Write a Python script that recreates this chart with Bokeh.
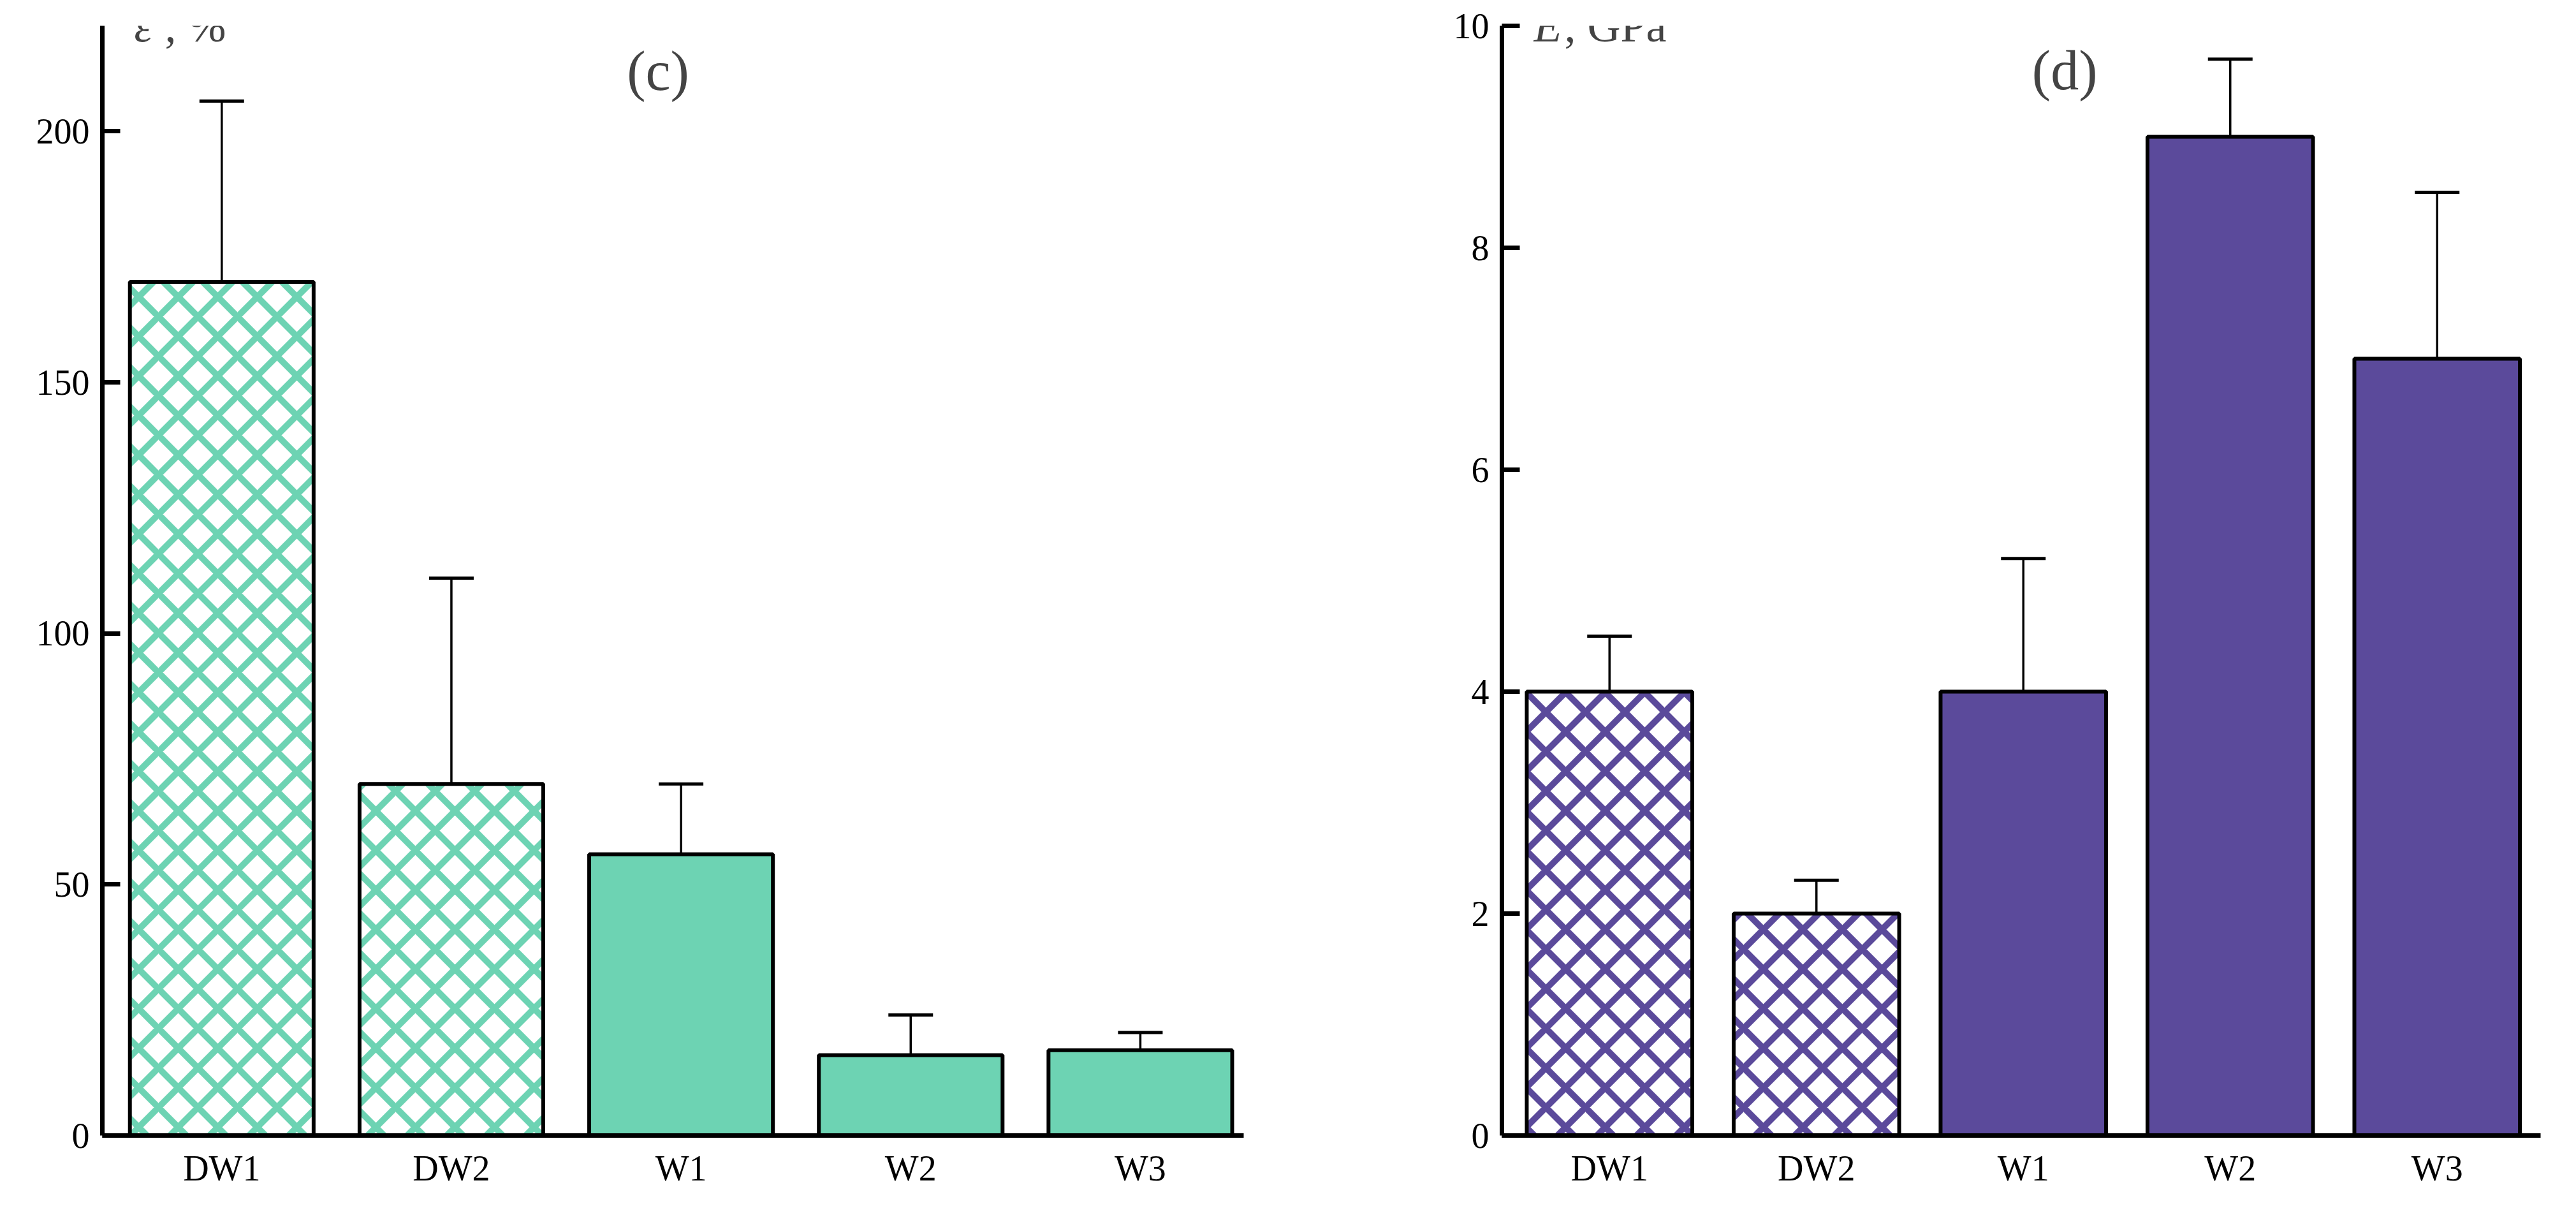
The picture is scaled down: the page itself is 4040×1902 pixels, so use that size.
from bokeh.plotting import figure
from bokeh.models import Whisker, TeeHead, ColumnDataSource, Label, FixedTicker, Range1d
from bokeh.layouts import row
from bokeh.embed import file_html
from bokeh.resources import INLINE

cats = ["DW1", "DW2", "W1", "W2", "W3"]
eps = [170, 70, 56, 16, 17]
eps_lo = [134, 29, 42, 8, 13.5]
eps_hi = [206, 111, 70, 24, 20.5]
mod = [4, 2, 4, 9, 7]
mod_lo = [3.5, 1.7, 2.8, 8.3, 5.5]
mod_hi = [4.5, 2.3, 5.2, 9.7, 8.5]
hatched = [True, True, False, False, False]

FONT = "Liberation Serif"

def panel(vals, lo, hi, color, ymax, yticks, w, bl, lab_parts, tag, tagx, tagy, labx, laby):
    p = figure(width=w, height=1880, x_range=Range1d(-0.52, 4.45), y_range=Range1d(0, ymax),
               output_backend="svg", toolbar_location=None,
               min_border_left=bl, min_border_right=40, min_border_top=40, min_border_bottom=100)
    p.outline_line_color = None
    p.grid.visible = False
    xs = list(range(len(cats)))
    for i in xs:
        if hatched[i]:
            p.vbar(x=[i], top=[vals[i]], width=0.8, fill_color="white", hatch_pattern="x",
                   hatch_color=color, hatch_scale=62, hatch_weight=10,
                   line_color="black", line_width=6)
        else:
            p.vbar(x=[i], top=[vals[i]], width=0.8, fill_color=color,
                   line_color="black", line_width=6)
    src = ColumnDataSource(dict(x=xs, lo=lo, hi=hi))
    p.add_layout(Whisker(source=src, base="x", lower="lo", upper="hi", line_width=3.5,
                         upper_head=TeeHead(size=70, line_width=5),
                         lower_head=TeeHead(size=70, line_width=5)))
    p.xaxis.ticker = FixedTicker(ticks=xs)
    p.xaxis.major_label_overrides = {i: c for i, c in enumerate(cats)}
    p.xaxis.major_tick_line_color = None
    p.yaxis.ticker = FixedTicker(ticks=yticks)
    for ax in (p.xaxis, p.yaxis):
        ax.axis_line_width = 7
        ax.major_label_text_font = FONT
        ax.major_label_text_font_size = "56px"
        ax.major_label_text_color = "black"
        ax.minor_tick_line_color = None
    p.yaxis.major_tick_in = 28
    p.yaxis.major_tick_out = 0
    p.yaxis.major_tick_line_width = 7
    p.xaxis.major_label_standoff = 14
    p.yaxis.major_label_standoff = 20
    p.add_layout(Label(x=labx, y=laby, x_units="screen", y_units="screen", text=lab_parts[0],
                       text_font=FONT, text_font_style="italic", text_font_size="72px"))
    p.add_layout(Label(x=labx + 48, y=laby, x_units="screen", y_units="screen", text=lab_parts[1],
                       text_font=FONT, text_font_size="72px"))
    p.add_layout(Label(x=tagx, y=tagy, text=tag, text_font=FONT, text_font_size="88px",
                       text_align="center", text_baseline="middle"))
    return p

pc = panel(eps, eps_lo, eps_hi, "#6dd3b3", 221, [0, 50, 100, 150, 200], 1990, 160,
           ("ε", ", %"), "(c)", 1.9, 212, 50, 1700)
pd_ = panel(mod, mod_lo, mod_hi, "#5b4a9b", 10, [0, 2, 4, 6, 8, 10], 2034, 365,
            ("E", ", GPa"), "(d)", 2.2, 9.6, 50, 1700)
pd_.x_range = Range1d(-0.52, 4.5)

open("out.html", "w").write(file_html(row(pc, pd_), INLINE))
